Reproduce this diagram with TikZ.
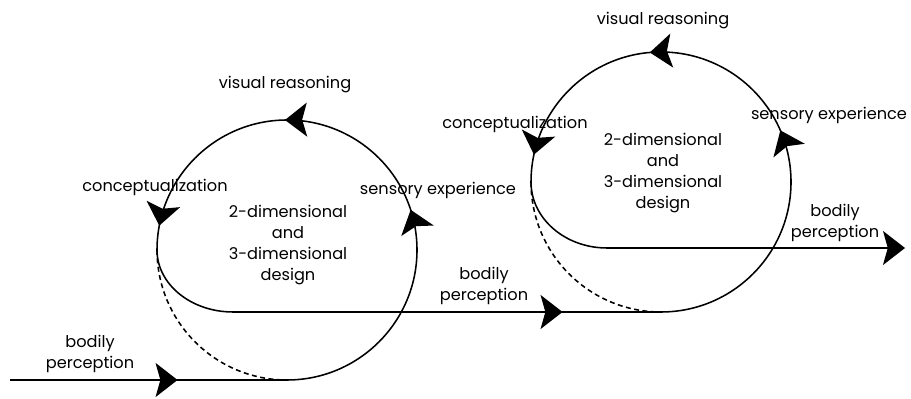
\documentclass[tikz,border=0pt]{standalone}
\usepackage{fontspec}
\setmainfont{Poppins}
\usetikzlibrary{arrows.meta,decorations.markings}

\tikzset{
  bighead/.tip={Stealth[length=0.55cm,width=0.85cm,inset=0.12cm]},
  midarrows/.style={postaction={decorate},
    decoration={markings,
      mark=at position #1 with {\arrow{bighead}}}},
  looparrows/.style n args={3}{postaction={decorate},
    decoration={markings,
      mark=at position #1 with {\arrow{bighead}},
      mark=at position #2 with {\arrow{bighead}},
      mark=at position #3 with {\arrow{bighead}}}},
  hidden/.style={dash pattern=on 3.5pt off 2.5pt},
  lbl/.style={font=\fontsize{11.5}{14.8}\selectfont, align=center, inner sep=0pt},
}

\begin{document}
\begin{tikzpicture}[x=0.025cm,y=0.025cm,line width=1.1pt]
\useasboundingbox (0,0) rectangle (911,399);

% points of the two loops
\coordinate (in1) at (10,19);
\coordinate (b1) at (287,19);   % bottom of first loop
\coordinate (l1) at (157,149);  % left of first loop
\coordinate (b2) at (661,87);   % bottom of second loop
\coordinate (l2) at (531,217);  % left of second loop
\coordinate (out2) at (905,151);

% first loop
\draw[midarrows=0.605] (in1) -- (b1);
\draw[looparrows={0.40}{0.67}{0.96}] (b1) arc[start angle=270,end angle=540,radius=130];
\draw[hidden] (l1) arc[start angle=180,end angle=270,radius=130];
\draw (l1) arc[start angle=180,end angle=270,x radius=76,y radius=62] coordinate (k1);
\draw[midarrows=0.77] (k1) -- (b2);

% second loop
\draw[looparrows={0.42}{0.685}{0.955}] (b2) arc[start angle=270,end angle=540,radius=130];
\draw[hidden] (l2) arc[start angle=180,end angle=270,radius=130];
\draw (l2) arc[start angle=180,end angle=270,x radius=76,y radius=66] coordinate (k2);
\draw[-bighead] (k2) -- (out2);

% labels
\node[lbl] (bp1) at (90,45) {bodily\\perception};
\node[lbl] (cp1) at (155,212) {conceptualization};
\node[lbl] (vr1) at (285,314) {visual reasoning};
\node[lbl] (se1) at (438,209) {sensory experience};
\node[lbl] (dz1) at (288,154) {2-dimensional\\and\\3-dimensional\\design};
\node[lbl] (bp2) at (484,113) {bodily\\perception};
\node[lbl] (cp2) at (515,275) {conceptualization};
\node[lbl] (vr2) at (663,378) {visual reasoning};
\node[lbl] (se2) at (829,284) {sensory experience};
\node[lbl] (dz2) at (663,226) {2-dimensional\\and\\3-dimensional\\design};
\node[lbl] (bp3) at (835,176) {bodily\\perception};
\end{tikzpicture}
\end{document}
